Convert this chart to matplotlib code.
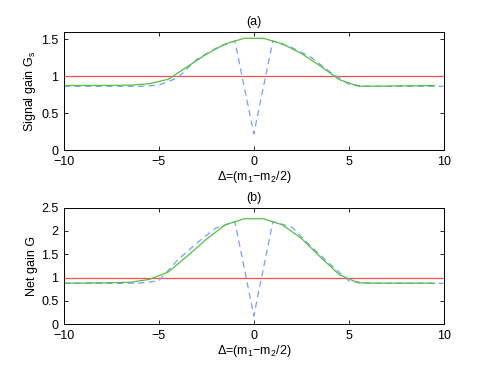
import matplotlib
matplotlib.use("Agg")
import matplotlib.pyplot as plt
import numpy as np

plt.rcParams['font.family'] = ['Liberation Sans', 'DejaVu Sans']
plt.rcParams['mathtext.fontset'] = 'custom'
plt.rcParams['mathtext.rm'] = 'Liberation Sans'
plt.rcParams['mathtext.it'] = 'Liberation Sans'
plt.rcParams['axes.unicode_minus'] = True

# green (solid) series sampled at half-integers
x_green = [-10.5, -9.5, -8.5, -7.5, -6.5, -5.5, -4.5, -3.5, -2.5, -1.5, -0.5,
           0.5, 1.5, 2.5, 3.5, 4.5, 5.5, 6.5, 7.5, 8.5, 9.5]
gs_green = [0.875, 0.876, 0.877, 0.878, 0.88, 0.90, 0.96, 1.13, 1.30, 1.44, 1.515,
            1.515, 1.44, 1.31, 1.14, 0.955, 0.865, 0.866, 0.87, 0.872, 0.875]
g_green = [0.88, 0.88, 0.885, 0.89, 0.90, 0.96, 1.12, 1.46, 1.82, 2.13, 2.26,
           2.26, 2.13, 1.84, 1.44, 1.06, 0.885, 0.88, 0.88, 0.88, 0.88]

# blue (dashed) series sampled at integers
x_blue = [-10, -9, -8, -7, -6, -5, -4, -3, -2, -1, 0, 1, 2, 3, 4, 5, 6, 7, 8, 9, 10]
gs_blue = [0.865, 0.865, 0.865, 0.865, 0.865, 0.88, 0.98, 1.23, 1.38, 1.48, 0.22,
           1.48, 1.39, 1.26, 1.06, 0.89, 0.865, 0.865, 0.865, 0.865, 0.865]
g_blue = [0.875, 0.875, 0.875, 0.875, 0.88, 0.93, 1.38, 1.74, 2.06, 2.20, 0.18,
          2.20, 2.08, 1.67, 1.29, 0.93, 0.88, 0.875, 0.875, 0.875, 0.875]

ref_level = 1.0

xticks = [-10, -5, 0, 5, 10]
yticks_a = [0, 0.5, 1, 1.5]
yticks_b = [0, 0.5, 1, 1.5, 2, 2.5]

GREEN = '#55c040'
BLUE = '#7b9cff'
RED = '#ff4d4d'
FS = 9

fig = plt.figure(figsize=(4.91, 3.68), dpi=100)
ax1 = fig.add_axes([0.130, 0.592, 0.774, 0.321])
ax2 = fig.add_axes([0.130, 0.119, 0.774, 0.317])

def style(ax, yticks, ylim):
    ax.set_xlim(-10, 10)
    ax.set_ylim(*ylim)
    ax.set_xticks(xticks)
    ax.set_yticks(yticks)
    ax.set_yticklabels([('%g' % t) for t in yticks])
    ax.tick_params(direction='in', top=True, right=True, length=3, width=0.6,
                   labelsize=FS)
    ax.tick_params(axis='x', pad=4.5)
    ax.tick_params(axis='y', pad=4)
    for s in ax.spines.values():
        s.set_linewidth(0.7)

for ax, yg, yb, yt, yl, title, ylab in [
        (ax1, gs_green, gs_blue, yticks_a, (0, 1.6), '(a)', 'Signal gain G$_\\mathrm{s}$'),
        (ax2, g_green, g_blue, yticks_b, (0, 2.5), '(b)', 'Net gain G')]:
    ax.axhline(ref_level, color=RED, lw=0.9)
    ax.plot(x_blue, yb, color=BLUE, lw=0.9, linestyle=(0, (5, 3.5)))
    ax.plot(x_green, yg, color=GREEN, lw=0.9)
    style(ax, yt, yl)
    ax.set_title(title, fontsize=FS, pad=5)
    ax.set_ylabel(ylab, fontsize=FS, labelpad=2)
    ax.set_xlabel('\u0394=(m$_1$\u2212m$_2$/2)', fontsize=FS, labelpad=0.5)

fig.savefig('out.png', dpi=100)
